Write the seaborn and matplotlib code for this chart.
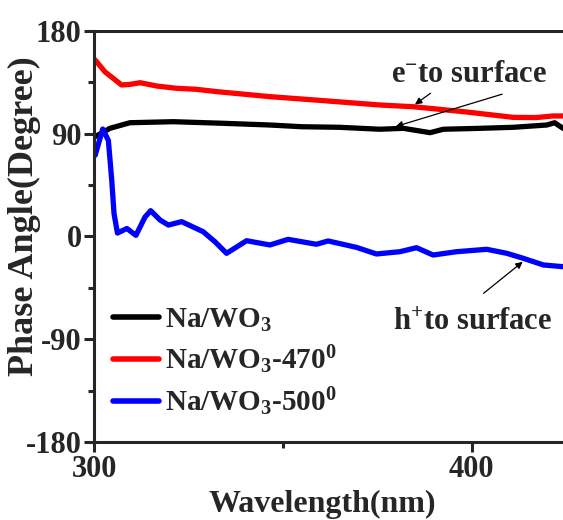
import matplotlib
matplotlib.use("Agg")
import matplotlib.pyplot as plt
import seaborn as sns
import pandas as pd
from matplotlib.ticker import MultipleLocator

# ---- data ----
black_x = [300.3, 304.2, 309.5, 321, 334.2, 346.6, 355, 365, 375.7, 381.9, 389, 392.5, 402.2, 411, 419.9, 422, 424.2]
black_y = [87.3, 94.6, 99.5, 100.4, 99, 97.5, 96, 95.5, 93.8, 94.6, 90.8, 93.8, 94.6, 95.5, 97.5, 99.5, 94.6]

red_x = [300.3, 302.9, 307.3, 309.5, 312.2, 316.6, 321.9, 327.2, 332.5, 346.6, 360, 375.7, 384.5, 397.8, 411, 417, 421.5, 424.2]
red_y = [154.4, 144, 132.5, 133, 134.5, 131.6, 129.6, 128.7, 126.7, 122.3, 119, 115, 113.5, 109.2, 104.2, 104, 105.4, 105.4]

blue_x = [300.3, 302.3, 303.8, 304.7, 305.3, 306.2, 308.7, 311.1, 313.5, 315, 317.5, 319.7, 323.2, 328.9, 332,
          335.1, 340.4, 346.6, 351.4, 358.9, 362, 369.5, 374.8, 381, 385.4, 389.8, 396, 404, 409.3, 413.7, 419, 424.2]
blue_y = [71, 94, 84, 49, 20, 3, 7, 1, 17, 22.6, 14.4, 10, 13, 4.2, -4.5,
          -14.7, -3.7, -7.4, -2.5, -6.8, -3.9, -9.5, -15.3, -13.3, -9.8, -16.2, -13.3, -11.2, -14.7, -19.1, -24.9, -26.4]

series_names = [r"Na/WO$_{3}$", r"Na/WO$_{3}$-470$^{0}$", r"Na/WO$_{3}$-500$^{0}$"]
series_colors = ["#000000", "#ff0000", "#0000ff"]

x_ticks = [300, 400]
y_ticks = [-180, -90, 0, 90, 180]

df = pd.concat([
    pd.DataFrame({"x": black_x, "y": black_y, "s": series_names[0]}),
    pd.DataFrame({"x": red_x, "y": red_y, "s": series_names[1]}),
    pd.DataFrame({"x": blue_x, "y": blue_y, "s": series_names[2]}),
], ignore_index=True)

# ---- style ----
sns.set_style("ticks")
plt.rcParams["font.family"] = ["Liberation Serif", "DejaVu Serif"]
plt.rcParams["font.weight"] = "bold"
plt.rcParams["axes.unicode_minus"] = False
plt.rcParams["mathtext.fontset"] = "custom"
plt.rcParams["mathtext.rm"] = "Liberation Serif:bold"
plt.rcParams["mathtext.it"] = "Liberation Serif:bold"
plt.rcParams["mathtext.bf"] = "Liberation Serif:bold"

fig = plt.figure(figsize=(5.63, 5.20), dpi=100)
ax = fig.add_axes([0.167, 0.1494, 0.833, 0.7916])

sns.lineplot(data=df, x="x", y="y", hue="s", palette=dict(zip(series_names, series_colors)),
             hue_order=series_names, sort=False, estimator=None, lw=3.8, ax=ax)

ax.set_xlim(300, 424.2)
ax.set_ylim(-180, 180)
ax.set_xticks(x_ticks)
ax.set_yticks(y_ticks)
ax.xaxis.set_minor_locator(MultipleLocator(50))
ax.yaxis.set_minor_locator(MultipleLocator(45))
ax.tick_params(which="major", direction="out", length=7, width=2.2, labelsize=22, pad=2)
ax.tick_params(which="minor", direction="out", length=4, width=2.2)
for sp in ["left", "bottom", "top"]:
    ax.spines[sp].set_linewidth(2.2)
ax.spines["right"].set_visible(False)

ax.set_xlabel("Wavelength(nm)", fontsize=23, fontweight="bold")
ax.set_ylabel("Phase Angle(Degree)", fontsize=26, fontweight="bold")
ax.xaxis.set_label_coords(0.487, -0.116)
ax.yaxis.set_label_coords(-0.113, 0.549)

leg = ax.legend(loc="upper left", bbox_to_anchor=(0.04, 0.33), frameon=False, fontsize=21,
                handlelength=1.6, handletextpad=0.2, labelspacing=0.33, borderpad=0, borderaxespad=0)
for line in leg.get_lines():
    line.set_linewidth(4)
    line.set_solid_capstyle("round")

# annotations
ax.text(399.3, 135.4, r"e$^{-}$to surface", fontsize=22, fontweight="bold", ha="center", va="baseline")
ax.annotate("", xy=(384.4, 114), xytext=(389.7, 126.7),
            arrowprops=dict(arrowstyle="-|>", color="black", lw=0.9, mutation_scale=10))
ax.annotate("", xy=(379.2, 95.5), xytext=(408.8, 125.2),
            arrowprops=dict(arrowstyle="-|>", color="black", lw=0.9, mutation_scale=10))

ax.text(400.2, -81.8, r"h$^{+}$to surface", fontsize=22, fontweight="bold", ha="center", va="baseline")
ax.annotate("", xy=(414.1, -20.6), xytext=(402.6, -51.2),
            arrowprops=dict(arrowstyle="-|>", color="black", lw=0.9, mutation_scale=10))

fig.savefig("out.png", dpi=100)
